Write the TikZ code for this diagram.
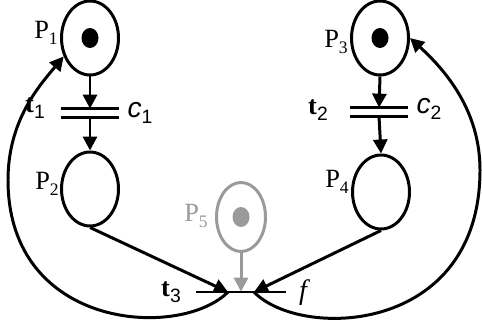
\documentclass[tikz,border=0pt]{standalone}
\usepackage{fontspec}
\setmainfont{Liberation Serif}
\newfontfamily\pnsans{Liberation Sans}
\usetikzlibrary{arrows.meta, shapes.geometric, calc}
\definecolor{pnGray}{HTML}{9A9A9A}
\newcommand{\pnsub}[1]{\raisebox{-0.45ex}{\fontsize{10}{10}\selectfont #1}}
\newcommand{\pnsubsf}[1]{\raisebox{-0.45ex}{\pnsans\upshape\fontsize{11}{11}\selectfont #1}}
\tikzset{
  pnplace/.style={draw, ellipse, line width=1.7pt, minimum width=1.14cm,
    minimum height=1.48cm, inner sep=0pt},
  pntoken/.style={fill, ellipse, minimum width=0.34cm, minimum height=0.4cm, inner sep=0pt},
  pntrans/.style={inner sep=0pt, minimum width=1.16cm, minimum height=0.16cm},
  pnbar/.style={line width=1.7pt},
  flowarc/.style={-{Triangle[length=2.8mm, width=2.8mm]}, line width=1.7pt},
  plabel/.style={font=\fontsize{15}{17}\selectfont, inner sep=0pt},
  clabel/.style={font=\pnsans\itshape\fontsize{16}{18}\selectfont, inner sep=0pt}
}
\begin{document}
\begin{tikzpicture}[x=0.02cm, y=-0.02cm]
  \useasboundingbox (0,0) rectangle (482,324);
  % places
  \node[pnplace] (p1) at (90,38) {};
  \node[pnplace] (p2) at (90,189) {};
  \node[pnplace] (p3) at (380,38) {};
  \node[pnplace] (p4) at (381,192) {};
  \node[pnplace, draw=pnGray, minimum width=0.98cm, minimum height=1.38cm] (p5) at (241,217) {};
  \node[pntoken] (k1) at (p1) {};
  \node[pntoken] (k3) at (p3) {};
  \node[pntoken, fill=pnGray] (k5) at (p5) {};
  % transitions
  \node[pntrans] (t1) at (90,113) {};
  \node[pntrans] (t2) at (379,112) {};
  \node[pntrans, minimum width=1.78cm, minimum height=0pt] (t3) at (241,292) {};
  \coordinate (t3l) at ($(t3)+(-13,0)$);
  \coordinate (t3r) at ($(t3)+(13,0)$);
  \draw[pnbar] (t1.north west) -- (t1.north east);
  \draw[pnbar] (t1.south west) -- (t1.south east);
  \draw[pnbar] (t2.north west) -- (t2.north east);
  \draw[pnbar] (t2.south west) -- (t2.south east);
  \draw[pnbar] (t3.west) -- (t3.east);
  % arcs
  \draw[flowarc] (p1.south) -- (t1.north);
  \draw[flowarc] (t1.south) -- (p2.north);
  \draw[flowarc] (p3.south) -- (t2.north);
  \draw[flowarc] (t2.south) -- (p4.north);
  \draw[flowarc] (p2.south) -- (t3l);
  \draw[flowarc] (p4.south) -- (t3r);
  \draw[flowarc, pnGray] (p5.south) -- (t3);
  \draw[flowarc] (t3l) .. controls (180,340) and (8,330) .. (8,180)
    .. controls (8,120) and (40,85) .. (p1.215);
  \draw[flowarc] (t3r) .. controls (300,340) and (480,335) .. (480,170)
    .. controls (480,110) and (445,70) .. (p3.east);
  % labels
  \node[plabel] (lp1) at (46,33) {P\pnsub{1}};
  \node[plabel] (lp2) at (47,184) {P\pnsub{2}};
  \node[plabel] (lp3) at (336,42) {P\pnsub{3}};
  \node[plabel] (lp4) at (337,182) {P\pnsub{4}};
  \node[plabel, text=pnGray] (lp5) at (196,216) {P\pnsub{5}};
  \node[plabel] (lt1) at (35,108) {\textbf{t}\pnsubsf{1}};
  \node[plabel] (lt2) at (318,110) {\textbf{t}\pnsubsf{2}};
  \node[plabel] (lt3) at (171,292) {\textbf{t}\pnsubsf{3}};
  \node[clabel] (lc1) at (140,113) {c\pnsubsf{1}};
  \node[clabel] (lc2) at (429,109) {c\pnsubsf{2}};
  \node[plabel, font=\itshape\fontsize{16}{18}\selectfont] (lf) at (303,293) {f};
\end{tikzpicture}
\end{document}
